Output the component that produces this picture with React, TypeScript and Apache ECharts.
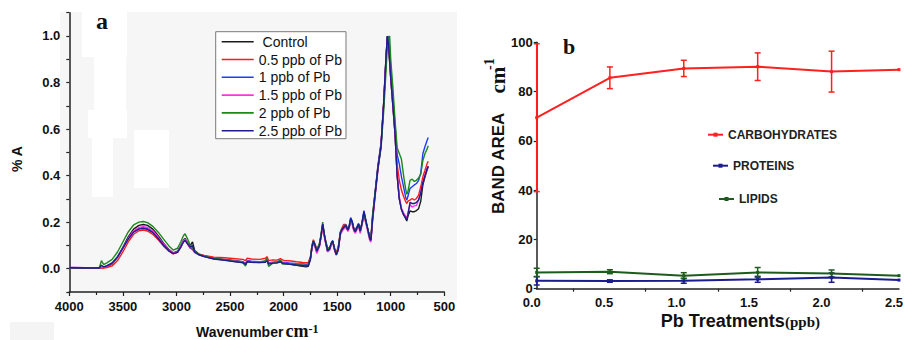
import React, { useEffect, useRef } from 'react';
import * as echarts from 'echarts';

const SANS = '"Liberation Sans", Arial, sans-serif';
const SERIF = '"Liberation Serif", "Times New Roman", serif';

// ---------- Panel a: FTIR spectra ----------
const WAVENUMBER = [
  4000, 3850, 3720, 3700, 3680, 3650, 3600, 3550, 3500, 3450, 3400, 3350, 3310, 3270, 3220, 3170, 3120, 3070, 3030,
  2990, 2960, 2935, 2920, 2895, 2870, 2850, 2830, 2790, 2740,
  2650, 2550, 2450, 2380, 2355, 2340, 2300, 2220, 2170, 2155, 2140, 2100, 2060, 2030, 2010, 1990, 1950, 1880, 1820, 1790,
  1770, 1750, 1735, 1722, 1705, 1690, 1665, 1650, 1635, 1615, 1590, 1570, 1555, 1542, 1525, 1508, 1490, 1470, 1455, 1440,
  1420, 1400, 1388, 1374, 1360, 1345, 1330, 1315, 1300, 1285, 1270, 1250, 1235, 1215, 1195, 1185,
  1170, 1150, 1120, 1090, 1065, 1045, 1032, 1020, 1010, 1000, 980, 960, 940, 920, 900, 880, 860, 850, 840, 820,
  800, 780, 760, 740, 720, 700, 680, 660, 650,
];

const CONTROL = [
  0.004, 0.003, 0.003, 0.004, 0.005, 0.008, 0.02, 0.05, 0.092, 0.137, 0.17, 0.186, 0.19, 0.186, 0.17, 0.142, 0.11, 0.082, 0.068,
  0.075, 0.098, 0.122, 0.13, 0.112, 0.1, 0.115, 0.078, 0.063, 0.055,
  0.045, 0.04, 0.034, 0.03, 0.022, 0.033, 0.03, 0.028, 0.03, 0.038, 0.022, 0.025, 0.026, 0.03, 0.024, 0.022, 0.02, 0.015, 0.01, 0.008,
  0.01, 0.04, 0.09, 0.115, 0.095, 0.07, 0.1, 0.14, 0.19, 0.13, 0.075, 0.085, 0.11, 0.12, 0.085, 0.06, 0.085, 0.15, 0.165, 0.175,
  0.185, 0.165, 0.18, 0.21, 0.2, 0.17, 0.16, 0.175, 0.19, 0.16, 0.19, 0.24, 0.21, 0.17, 0.13, 0.125,
  0.21, 0.3, 0.43, 0.53, 0.72, 0.9, 1.0, 0.95, 0.89, 0.82, 0.7, 0.58, 0.4, 0.3, 0.255, 0.232, 0.215, 0.205, 0.225, 0.248,
  0.245, 0.245, 0.25, 0.258, 0.29, 0.36, 0.395, 0.425, 0.438,
];

const PB_05 = [
  0.004, 0.003, 0.002, 0.002, 0.003, 0.005, 0.012, 0.035, 0.072, 0.115, 0.148, 0.163, 0.166, 0.162, 0.148, 0.124, 0.097, 0.075, 0.064,
  0.07, 0.092, 0.115, 0.122, 0.105, 0.088, 0.082, 0.07, 0.062, 0.057,
  0.05, 0.047, 0.043, 0.04, 0.035, 0.045, 0.042, 0.04, 0.045, 0.052, 0.035, 0.038, 0.037, 0.043, 0.038, 0.035, 0.034, 0.03, 0.027, 0.026,
  0.027, 0.05, 0.1, 0.125, 0.105, 0.085, 0.105, 0.14, 0.18, 0.135, 0.09, 0.09, 0.105, 0.115, 0.09, 0.07, 0.095, 0.16, 0.175, 0.19,
  0.19, 0.17, 0.18, 0.2, 0.195, 0.175, 0.17, 0.18, 0.19, 0.165, 0.19, 0.225, 0.205, 0.17, 0.14, 0.135,
  0.22, 0.31, 0.44, 0.54, 0.71, 0.89, 0.99, 0.98, 0.92, 0.84, 0.72, 0.6, 0.45, 0.38, 0.338, 0.31, 0.288, 0.28, 0.29, 0.295,
  0.302, 0.295, 0.302, 0.316, 0.352, 0.395, 0.423, 0.452, 0.462,
];

const PB_1 = [
  0.005, 0.004, 0.003, 0.006, 0.008, 0.012, 0.025, 0.052, 0.09, 0.13, 0.16, 0.174, 0.177, 0.173, 0.158, 0.132, 0.103, 0.078, 0.066,
  0.072, 0.095, 0.118, 0.125, 0.108, 0.09, 0.085, 0.07, 0.06, 0.052,
  0.043, 0.038, 0.033, 0.028, 0.022, 0.034, 0.032, 0.03, 0.032, 0.04, 0.025, 0.028, 0.03, 0.035, 0.028, 0.027, 0.025, 0.022, 0.02, 0.019,
  0.02, 0.045, 0.095, 0.12, 0.1, 0.078, 0.1, 0.145, 0.19, 0.13, 0.08, 0.085, 0.105, 0.12, 0.085, 0.062, 0.085, 0.155, 0.17, 0.18,
  0.19, 0.17, 0.185, 0.22, 0.205, 0.172, 0.162, 0.18, 0.195, 0.165, 0.195, 0.25, 0.215, 0.172, 0.13, 0.125,
  0.22, 0.31, 0.44, 0.54, 0.71, 0.89, 0.99, 1.0, 0.94, 0.86, 0.74, 0.62, 0.49, 0.45, 0.395, 0.352, 0.305, 0.295, 0.31, 0.345,
  0.352, 0.36, 0.366, 0.38, 0.41, 0.495, 0.525, 0.552, 0.564,
];

const PB_15 = [
  0.005, 0.004, 0.003, 0.005, 0.007, 0.01, 0.022, 0.05, 0.088, 0.13, 0.162, 0.177, 0.181, 0.177, 0.162, 0.136, 0.106, 0.08, 0.067,
  0.072, 0.095, 0.12, 0.127, 0.11, 0.092, 0.09, 0.072, 0.061, 0.053,
  0.043, 0.037, 0.032, 0.028, 0.02, 0.032, 0.03, 0.028, 0.03, 0.036, 0.022, 0.026, 0.027, 0.032, 0.025, 0.024, 0.022, 0.018, 0.015, 0.014,
  0.015, 0.04, 0.088, 0.11, 0.09, 0.065, 0.095, 0.135, 0.185, 0.125, 0.072, 0.08, 0.1, 0.112, 0.08, 0.058, 0.078, 0.145, 0.16, 0.17,
  0.178, 0.16, 0.172, 0.205, 0.19, 0.162, 0.152, 0.168, 0.182, 0.152, 0.182, 0.23, 0.2, 0.16, 0.12, 0.115,
  0.2, 0.29, 0.42, 0.53, 0.71, 0.89, 0.99, 0.97, 0.9, 0.82, 0.7, 0.58, 0.41, 0.31, 0.26, 0.24, 0.225, 0.216, 0.24, 0.275,
  0.265, 0.27, 0.272, 0.295, 0.33, 0.375, 0.405, 0.43, 0.44,
];

const PB_2 = [
  0.004, 0.004, 0.004, 0.035, 0.018, 0.025, 0.04, 0.072, 0.115, 0.158, 0.188, 0.2, 0.203, 0.198, 0.182, 0.157, 0.127, 0.098, 0.08,
  0.088, 0.115, 0.142, 0.15, 0.127, 0.1, 0.092, 0.075, 0.062, 0.054,
  0.044, 0.038, 0.031, 0.025, 0.012, 0.03, 0.028, 0.027, 0.035, 0.045, 0.01, 0.024, 0.026, 0.038, 0.02, 0.02, 0.02, 0.017, 0.015, 0.014,
  0.015, 0.045, 0.1, 0.12, 0.1, 0.08, 0.11, 0.15, 0.2, 0.135, 0.085, 0.09, 0.11, 0.118, 0.085, 0.065, 0.088, 0.155, 0.17, 0.18,
  0.188, 0.168, 0.18, 0.21, 0.2, 0.17, 0.16, 0.176, 0.19, 0.162, 0.19, 0.235, 0.208, 0.17, 0.13, 0.125,
  0.23, 0.31, 0.43, 0.52, 0.68, 0.84, 0.95, 0.99, 1.0, 0.9, 0.78, 0.64, 0.52, 0.495, 0.47, 0.4, 0.34, 0.32, 0.33, 0.38,
  0.385, 0.375, 0.38, 0.39, 0.405, 0.465, 0.495, 0.515, 0.528,
];

const PB_25 = [
  0.004, 0.003, 0.003, 0.015, 0.008, 0.012, 0.024, 0.05, 0.088, 0.127, 0.157, 0.17, 0.173, 0.169, 0.155, 0.13, 0.101, 0.077, 0.065,
  0.07, 0.093, 0.115, 0.122, 0.107, 0.093, 0.1, 0.072, 0.06, 0.052,
  0.042, 0.036, 0.03, 0.026, 0.018, 0.03, 0.028, 0.026, 0.028, 0.034, 0.02, 0.024, 0.025, 0.03, 0.024, 0.022, 0.02, 0.016, 0.013, 0.012,
  0.013, 0.04, 0.092, 0.118, 0.098, 0.075, 0.1, 0.142, 0.192, 0.132, 0.078, 0.085, 0.108, 0.12, 0.085, 0.06, 0.082, 0.152, 0.168, 0.178,
  0.186, 0.166, 0.18, 0.215, 0.202, 0.17, 0.16, 0.176, 0.192, 0.162, 0.192, 0.245, 0.212, 0.17, 0.128, 0.122,
  0.21, 0.3, 0.43, 0.53, 0.72, 0.9, 1.0, 0.96, 0.89, 0.82, 0.7, 0.58, 0.4, 0.3, 0.255, 0.232, 0.218, 0.21, 0.23, 0.285,
  0.28, 0.28, 0.285, 0.295, 0.325, 0.37, 0.4, 0.43, 0.44,
];

const SPECTRA_NAMES = ['Control', '0.5 ppb of Pb', '1 ppb of Pb', '1.5 ppb of Pb', '2 ppb of Pb', '2.5 ppb of Pb'];
const SPECTRA_VALUES = [CONTROL, PB_05, PB_1, PB_15, PB_2, PB_25];
const SPECTRA_COLORS = ['#1a1a1a', '#ff1a1a', '#1f3cff', '#ff33dd', '#1b8a1b', '#1c1c8c'];

// ---------- Panel b: band areas ----------
const PB_TREATMENT = [0, 0.505, 1.015, 1.525, 2.035, 2.5];
const CARBOHYDRATES = [69.4, 85.6, 89.4, 90.1, 88.1, 88.9];
const CARBOHYDRATES_ERR = [30, 4.4, 3.3, 5.6, 8.3, 0];
const PROTEINS = [3.2, 3.1, 3.2, 3.8, 4.5, 3.5];
const PROTEINS_ERR = [1.7, 0.5, 1.0, 1.2, 1.9, 0];
const LIPIDS = [6.6, 6.9, 5.3, 6.6, 6.2, 5.3];
const LIPIDS_ERR = [1.7, 0.8, 1.2, 2.0, 1.4, 0];

const BAND_NAMES = ['CARBOHYDRATES', 'PROTEINS', 'LIPIDS'];
const BAND_VALUES = [CARBOHYDRATES, PROTEINS, LIPIDS];
const BAND_ERRS = [CARBOHYDRATES_ERR, PROTEINS_ERR, LIPIDS_ERR];
const BAND_COLORS = ['#ff2020', '#1c1c90', '#1d5c1d'];

function errorSeries(vals: number[], errs: number[], color: string) {
  return {
    type: 'custom',
    xAxisIndex: 1,
    yAxisIndex: 1,
    z: 3,
    silent: true,
    data: PB_TREATMENT.map((x, i) => [x, vals[i] - errs[i], vals[i] + errs[i]]).filter((d, i) => errs[i] > 0),
    encode: { x: 0, y: [1, 2] },
    renderItem: (params: any, api: any) => {
      const x = api.value(0);
      const top = api.coord([x, api.value(2)]);
      const bot = api.coord([x, api.value(1)]);
      const hw = 3;
      const style = { stroke: color, lineWidth: 1.5 };
      return {
        type: 'group',
        children: [
          { type: 'line', shape: { x1: top[0], y1: top[1], x2: bot[0], y2: bot[1] }, style },
          { type: 'line', shape: { x1: top[0] - hw, y1: top[1], x2: top[0] + hw, y2: top[1] }, style },
          { type: 'line', shape: { x1: bot[0] - hw, y1: bot[1], x2: bot[0] + hw, y2: bot[1] }, style },
        ],
      };
    },
  };
}

const axisLineStyle = { color: '#222', width: 1.5 };
const boldLabel = { color: '#111', fontWeight: 'bold', fontSize: 13, fontFamily: SANS };

function txt(text: string, x: number, y: number, font: string, align = 'left', rotation = 0) {
  return {
    type: 'text',
    x,
    y,
    rotation,
    z: 20,
    style: {
      text,
      font,
      fill: '#111',
      textAlign: align,
      align,
      textVerticalAlign: 'middle',
      verticalAlign: 'middle',
    },
  };
}

function rect(x: number, y: number, width: number, height: number, fill: string, z: number) {
  return { type: 'rect', z, silent: true, shape: { x, y, width, height }, style: { fill } };
}

export default function App() {
  const ref = useRef<HTMLDivElement>(null);
  useEffect(() => {
    const chart = echarts.init(ref.current!, null, { renderer: 'svg' });
    const option: any = {
      animation: false,
      backgroundColor: '#ffffff',
      textStyle: { fontFamily: SANS },
      grid: [
        { left: 69.3, top: 12.7, width: 375, height: 279.3 },
        { left: 536.7, top: 42.3, width: 363.3, height: 246.4 },
      ],
      legend: [
        {
          data: SPECTRA_NAMES,
          orient: 'vertical',
          left: 215.7,
          top: 31.7,
          padding: [3, 4, 1, 6],
          icon: 'rect',
          itemWidth: 32,
          itemHeight: 1.6,
          itemGap: 3.8,
          borderColor: '#7a7a7a',
          borderWidth: 1,
          backgroundColor: '#ffffff',
          selectedMode: false,
          formatter: (n: string) => (n === 'Control' ? ' Control' : n),
          textStyle: { fontSize: 14, lineHeight: 14, color: '#111', fontFamily: SANS },
        },
        ...BAND_NAMES.map((n, i) => ({
          data: [n],
          left: [707, 712, 718][i],
          top: [128.7, 159.7, 193][i],
          padding: 0,
          itemWidth: 15,
          itemHeight: 5,
          selectedMode: false,
          textStyle: { fontSize: 12, fontWeight: 'bold', color: '#222', fontFamily: SANS },
        })),
      ],
      xAxis: [
        {
          type: 'value',
          gridIndex: 0,
          min: 500,
          max: 4000,
          interval: 500,
          inverse: true,
          axisLine: { onZero: false, lineStyle: axisLineStyle },
          axisTick: { length: 4, lineStyle: { color: '#222', width: 1.2 } },
          minorTick: { show: true, splitNumber: 2, length: 3, lineStyle: { color: '#222', width: 1.2 } },
          splitLine: { show: false },
          axisLabel: { ...boldLabel, margin: 8, formatter: (v: number) => String(v) },
        },
        {
          type: 'value',
          gridIndex: 1,
          min: 0,
          max: 2.5,
          interval: 0.5,
          axisLine: { onZero: false, lineStyle: axisLineStyle },
          axisTick: { show: false },
          minorTick: { show: true, splitNumber: 2, length: 3, lineStyle: { color: '#222', width: 1.2 } },
          splitLine: { show: false },
          axisLabel: { ...boldLabel, margin: 7, padding: [0, 10, 0, 0], formatter: (v: number) => v.toFixed(1) },
        },
      ],
      yAxis: [
        {
          type: 'value',
          gridIndex: 0,
          min: -0.1,
          max: 1.1,
          interval: 0.1,
          axisLine: { show: true, onZero: false, lineStyle: axisLineStyle },
          axisTick: { show: true, length: 3, lineStyle: { color: '#222', width: 1.2 } },
          splitLine: { show: false },
          axisLabel: {
            ...boldLabel,
            margin: 9,
            formatter: (v: number) => {
              const k = Math.round(v * 10);
              return k >= 0 && k % 2 === 0 ? (k / 10).toFixed(1) : '';
            },
          },
        },
        {
          type: 'value',
          gridIndex: 1,
          min: 0,
          max: 100,
          interval: 20,
          axisLine: { show: true, onZero: false, lineStyle: axisLineStyle },
          axisTick: { show: true, length: 3, lineStyle: { color: '#222', width: 1.2 } },
          splitLine: { show: false },
          axisLabel: { ...boldLabel, margin: 4 },
        },
      ],
      series: [
        ...SPECTRA_NAMES.map((n, i) => ({
          name: n,
          type: 'line',
          xAxisIndex: 0,
          yAxisIndex: 0,
          symbol: 'none',
          showSymbol: false,
          color: SPECTRA_COLORS[i],
          lineStyle: { width: 1.4, color: SPECTRA_COLORS[i] },
          data: WAVENUMBER.map((w, j) => [w, SPECTRA_VALUES[i][j]]),
        })),
        ...BAND_NAMES.map((n, i) => ({
          name: n,
          type: 'line',
          xAxisIndex: 1,
          yAxisIndex: 1,
          symbol: 'rect',
          symbolSize: 3,
          color: BAND_COLORS[i],
          itemStyle: { color: BAND_COLORS[i] },
          lineStyle: { width: 2, color: BAND_COLORS[i] },
          data: PB_TREATMENT.map((x, j) => [x, BAND_VALUES[i][j]]),
        })),
        ...BAND_NAMES.map((n, i) => errorSeries(BAND_VALUES[i], BAND_ERRS[i], BAND_COLORS[i])),
      ],
      graphic: {
        elements: [
          rect(60, 12, 397, 288, '#f6f6f6', -10),
          rect(82, 12, 45, 45, '#ffffff', -9),
          rect(94, 57, 32, 53, '#ffffff', -9),
          rect(88, 110, 39, 28, '#ffffff', -9),
          rect(92, 115, 21, 82, '#ffffff', -9),
          rect(134, 130, 35, 58, '#ffffff', -9),
          rect(10, 322, 44, 18, '#f4f4f4', -9),
          txt('a', 102, 21, `bold 24px ${SERIF}`, 'center'),
          txt('b', 569, 46, `bold 22px ${SERIF}`, 'center'),
          txt('% A', 17, 159, `bold 14px ${SANS}`, 'center', Math.PI / 2),
          txt('Wavenumber', 196, 332, `bold 14px ${SANS}`),
          txt('cm', 285.5, 330.5, `bold 18px ${SERIF}`),
          txt('-1', 308.5, 328.5, `bold 12px ${SERIF}`),
          txt('BAND AREA', 498.5, 163.3, `bold 17px ${SANS}`, 'center', Math.PI / 2),
          txt('cm', 498, 93.5, `bold 21px ${SERIF}`, 'left', Math.PI / 2),
          txt('-1', 489, 70, `bold 14px ${SERIF}`, 'left', Math.PI / 2),
          txt('Pb Treatments', 660.7, 321, `bold 18px ${SANS}`),
          txt('(ppb)', 785, 322, `bold 15px ${SERIF}`),
        ],
      },
    };
    chart.setOption(option);
    return () => chart.dispose();
  }, []);
  return (
    <div
      ref={ref}
      style={{ position: 'fixed', left: 0, top: 0, width: 906, height: 340, background: '#fff' }}
    />
  );
}
